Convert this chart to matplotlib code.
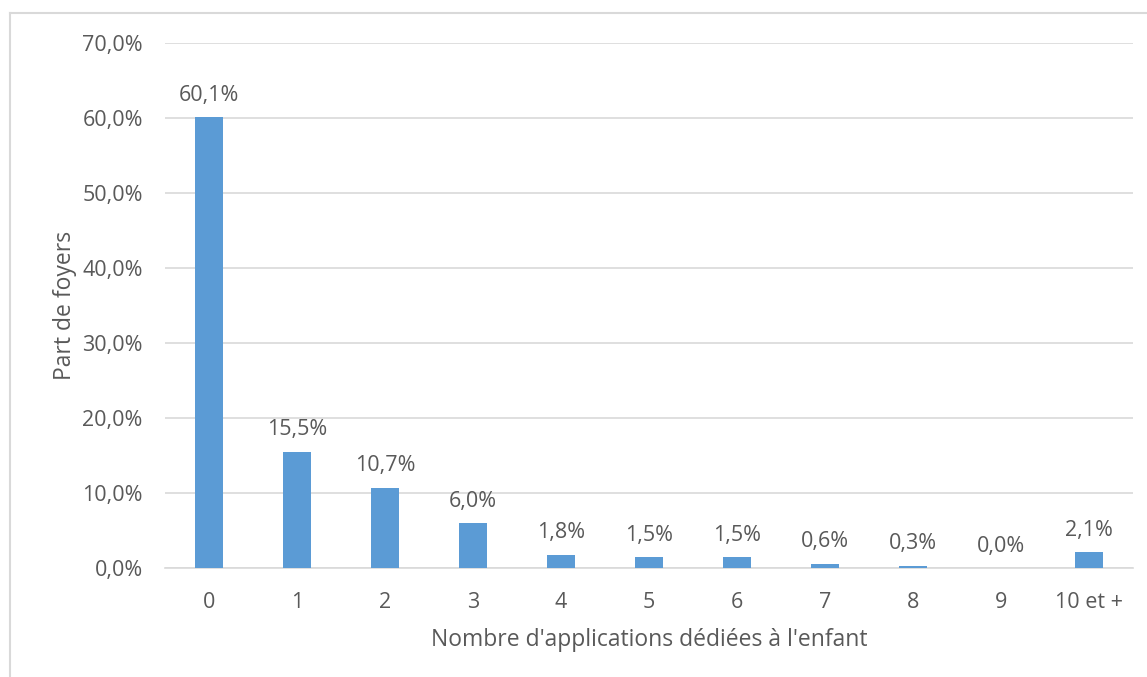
import matplotlib.pyplot as plt
from matplotlib.lines import Line2D

categories = ['0', '1', '2', '3', '4', '5', '6', '7', '8', '9', '10 et +']
shares = [60.1, 15.5, 10.7, 6.0, 1.8, 1.5, 1.5, 0.6, 0.3, 0.0, 2.1]
yticks = [0, 10, 20, 30, 40, 50, 60, 70]

textColor = '#595959'
gridColor = '#D9D9D9'
plt.rcParams['font.family'] = ['Open Sans', 'DejaVu Sans']

fig = plt.figure(figsize=(11.47, 6.77), dpi=100)
ax = fig.add_axes([165 / 1147, 1 - 568 / 677, 968 / 1147, 525 / 677])

x = range(len(categories))
ax.bar(x, shares, width=0.32, color='#5B9BD5', zorder=3)
for xi, v in zip(x, shares):
    ax.text(xi, v + 1.5, f'{v:.1f}%'.replace('.', ','), ha='center', va='bottom',
            fontsize=15.5, color=textColor)

ax.set_xlim(-0.5, len(categories) - 0.5)
ax.set_ylim(0, 70)
ax.set_yticks(yticks)
ax.set_yticklabels([f'{t:.1f}%'.replace('.', ',') for t in yticks])
ax.set_xticks(list(x))
ax.set_xticklabels(categories)
ax.tick_params(length=0, labelsize=15.5, labelcolor=textColor)
ax.tick_params(axis='y', pad=16)
ax.tick_params(axis='x', pad=17)
ax.grid(axis='y', color=gridColor, linewidth=1.2, zorder=0)
for s in ['top', 'right', 'left']:
    ax.spines[s].set_visible(False)
ax.spines['bottom'].set_color(gridColor)
ax.spines['bottom'].set_linewidth(1.2)

ax.set_xlabel("Nombre d'applications dédiées à l'enfant", fontsize=16.5, color=textColor, labelpad=11)
ax.set_ylabel('Part de foyers', fontsize=16.5, color=textColor, labelpad=4)

# cadre du graphique (bord gauche et haut)
fig.add_artist(Line2D([10 / 1147, 10 / 1147], [0, 1 - 13 / 677], color=gridColor, linewidth=1.5,
                      transform=fig.transFigure))
fig.add_artist(Line2D([10 / 1147, 1], [1 - 13 / 677, 1 - 13 / 677], color=gridColor, linewidth=1.5,
                      transform=fig.transFigure))

fig.savefig('out.png', dpi=100)
